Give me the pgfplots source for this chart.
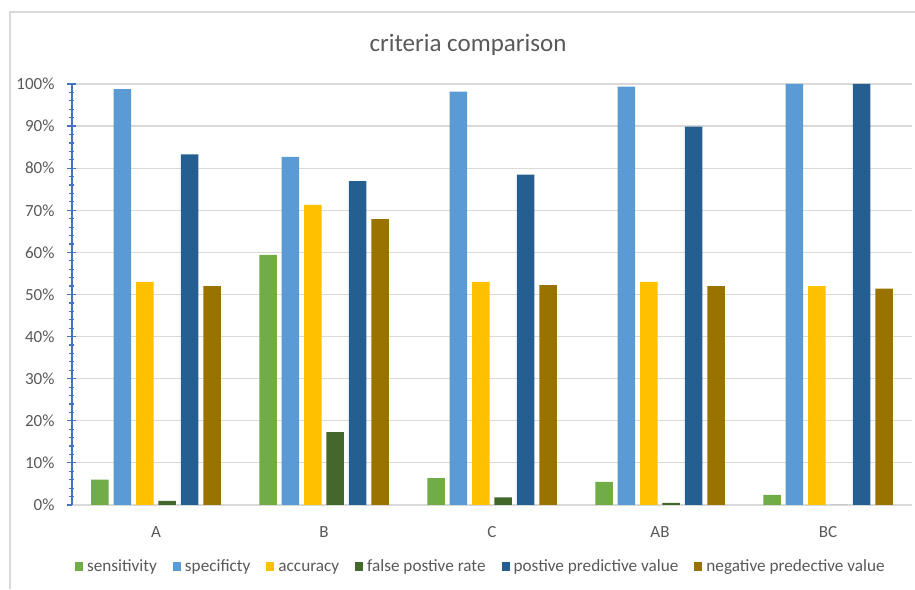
\documentclass[border=0pt]{standalone}
\usepackage{pgfplots}
\pgfplotsset{compat=1.18}
\usepackage{fontspec}
\setmainfont{Carlito}
\definecolor{csens}{HTML}{70AD47}
\definecolor{cspec}{HTML}{5B9BD5}
\definecolor{cacc}{HTML}{FFC000}
\definecolor{cfpr}{HTML}{43682B}
\definecolor{cppv}{HTML}{255E91}
\definecolor{cnpv}{HTML}{997300}
\definecolor{gridgray}{HTML}{D9D9D9}
\definecolor{textgray}{HTML}{595959}
\definecolor{axisblue}{HTML}{4472C4}
\begin{document}
\begin{tikzpicture}[x=1pt,y=1pt]
\useasboundingbox (0,0) rectangle (457.5,294.5);
\draw[color=gridgray, line width=0.6pt] (5,0) -- (5,288.5) -- (457.5,288.5);
\node[font=\fontsize{12.5}{15}\selectfont, text=textgray] at (234,272) {criteria comparison};
\begin{axis}[
  at={(36pt,42pt)}, anchor=south west, scale only axis,
  width=420pt, height=210.5pt,
  ybar=2.45pt, bar width=8.75pt,
  xmin=-0.5, xmax=4.5, ymin=0, ymax=100,
  xtick={0,1,2,3,4}, xticklabels={A,B,C,AB,BC},
  major x tick style={draw=none},
  ytick={0,10,...,100}, minor y tick num=4,
  ymajorgrids, grid style={color=gridgray, line width=0.6pt},
  axis x line*=bottom, axis y line*=left,
  x axis line style={color=gridgray, line width=0.8pt},
  y axis line style={color=axisblue, line width=0.8pt},
  y tick style={color=axisblue, line width=0.6pt},
  major tick length=4.5pt, minor tick length=2.5pt,
  tick align=center,
  /pgf/number format/assume math mode=true,
  yticklabel={\pgfmathprintnumber{\tick}\%},
  yticklabel style={font=\fontsize{8.5}{10}\selectfont, text=textgray, xshift=-3pt},
  xticklabel style={font=\fontsize{8.5}{10}\selectfont, text=textgray, yshift=-5pt},
  every axis plot/.append style={draw=none, legend image code/.code={\fill[##1] (0pt,-2.3pt) rectangle (4pt,2.3pt);}},
  legend columns=6,
  legend style={at={(0.488,-0.147)}, anchor=center, draw=none, fill=none,
    font=\fontsize{8.6}{10}\selectfont, text=textgray,
    nodes={text height=6.2pt, text depth=1.9pt, inner xsep=2pt},
    /tikz/every even column/.append style={column sep=6pt}},
  legend cell align=left,
]
\addplot[fill=csens] coordinates {(0,6.0) (1,59.4) (2,6.4) (3,5.5) (4,2.4)};
\addplot[fill=cspec] coordinates {(0,98.8) (1,82.7) (2,98.2) (3,99.4) (4,100)};
\addplot[fill=cacc] coordinates {(0,53.0) (1,71.3) (2,53.0) (3,53.0) (4,52.0)};
\addplot[fill=cfpr] coordinates {(0,1.0) (1,17.3) (2,1.8) (3,0.5) (4,0)};
\addplot[fill=cppv] coordinates {(0,83.3) (1,76.9) (2,78.5) (3,89.9) (4,100)};
\addplot[fill=cnpv] coordinates {(0,52.0) (1,67.9) (2,52.2) (3,52.0) (4,51.4)};
\legend{sensitivity, specificty, accuracy, false postive rate, postive predictive value, negative predective value}
\end{axis}
\end{tikzpicture}
\end{document}
